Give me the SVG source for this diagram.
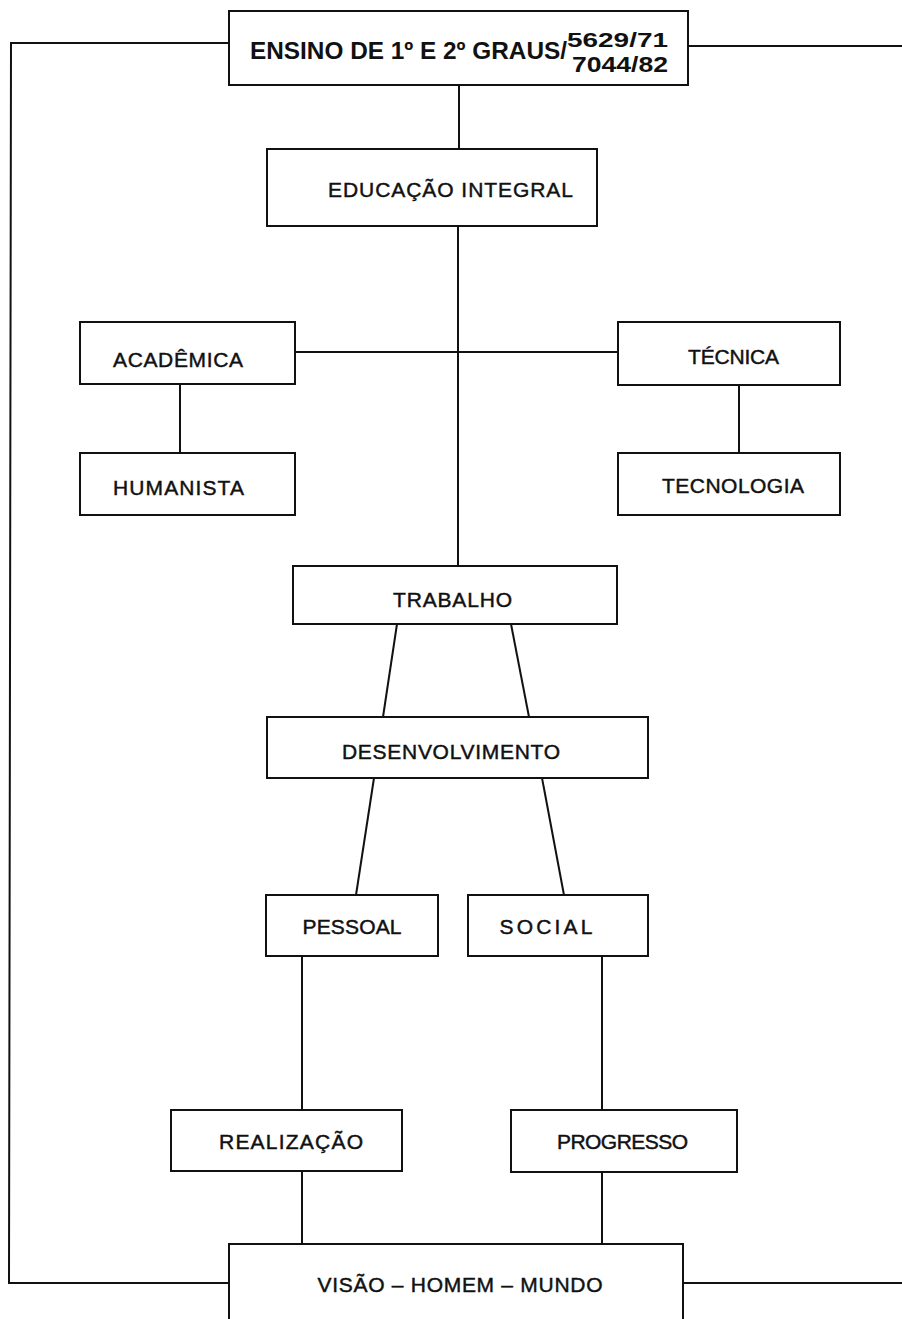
<svg xmlns="http://www.w3.org/2000/svg" width="902" height="1319" viewBox="0 0 902 1319">
<style>
.box{fill:#fff;stroke:#111;stroke-width:2}
.ln{fill:none;stroke:#111;stroke-width:2}
.t{font-family:"Liberation Sans",Arial,sans-serif;font-size:21px;fill:#111;stroke:#111;stroke-width:0.45;text-anchor:middle}
.tb{font-family:"Liberation Sans",Arial,sans-serif;font-weight:bold;fill:#111}
</style>
<rect width="902" height="1319" fill="#fff"/>
<g id="connectors">
<polyline class="ln" points="229,43 11,43 9,1283 229,1283"/>
<line class="ln" x1="688" y1="46" x2="902" y2="46"/>
<line class="ln" x1="683" y1="1283" x2="902" y2="1283"/>
<line class="ln" x1="459" y1="85" x2="459" y2="149"/>
<line class="ln" x1="458" y1="226" x2="458" y2="566"/>
<line class="ln" x1="295" y1="352" x2="618" y2="352"/>
<line class="ln" x1="180" y1="384" x2="180" y2="453"/>
<line class="ln" x1="739" y1="385" x2="739" y2="453"/>
<line class="ln" x1="397" y1="624" x2="383" y2="717"/>
<line class="ln" x1="511" y1="624" x2="529" y2="717"/>
<line class="ln" x1="374" y1="778" x2="356" y2="895"/>
<line class="ln" x1="542" y1="778" x2="564" y2="895"/>
<line class="ln" x1="302" y1="956" x2="302" y2="1110"/>
<line class="ln" x1="602" y1="956" x2="602" y2="1110"/>
<line class="ln" x1="302" y1="1171" x2="302" y2="1244"/>
<line class="ln" x1="602" y1="1172" x2="602" y2="1244"/>
</g>
<g id="ensino">
<rect class="box" x="229" y="11" width="459" height="74"/>
<text class="tb" x="250" y="59" font-size="24" textLength="317" lengthAdjust="spacingAndGlyphs">ENSINO DE 1º E 2º GRAUS/</text>
<text class="tb" x="567" y="47" font-size="21" textLength="101" lengthAdjust="spacingAndGlyphs">5629/71</text>
<text class="tb" x="572" y="72" font-size="22" textLength="96" lengthAdjust="spacingAndGlyphs">7044/82</text>
</g>
<g id="educacao">
<rect class="box" x="267" y="149" width="330" height="77"/>
<text class="t" x="450.5" y="197" textLength="245">EDUCAÇÃO INTEGRAL</text>
</g>
<g id="academica">
<rect class="box" x="80" y="322" width="215" height="62"/>
<text class="t" x="178" y="367" textLength="130">ACADÊMICA</text>
</g>
<g id="humanista">
<rect class="box" x="80" y="453" width="215" height="62"/>
<text class="t" x="178.5" y="495" textLength="131">HUMANISTA</text>
</g>
<g id="tecnica">
<rect class="box" x="618" y="322" width="222" height="63"/>
<text class="t" x="733.5" y="364" textLength="91">TÉCNICA</text>
</g>
<g id="tecnologia">
<rect class="box" x="618" y="453" width="222" height="62"/>
<text class="t" x="733" y="493" textLength="142">TECNOLOGIA</text>
</g>
<g id="trabalho">
<rect class="box" x="293" y="566" width="324" height="58"/>
<text class="t" x="452.5" y="607" textLength="119">TRABALHO</text>
</g>
<g id="desenvolvimento">
<rect class="box" x="267" y="717" width="381" height="61"/>
<text class="t" x="451" y="759" textLength="218">DESENVOLVIMENTO</text>
</g>
<g id="pessoal">
<rect class="box" x="266" y="895" width="172" height="61"/>
<text class="t" x="352" y="934" textLength="99">PESSOAL</text>
</g>
<g id="social">
<rect class="box" x="468" y="895" width="180" height="61"/>
<text class="t" x="546" y="934" textLength="93">SOCIAL</text>
</g>
<g id="realizacao">
<rect class="box" x="171" y="1110" width="231" height="61"/>
<text class="t" x="291" y="1149" textLength="144">REALIZAÇÃO</text>
</g>
<g id="progresso">
<rect class="box" x="511" y="1110" width="226" height="62"/>
<text class="t" x="622.5" y="1149" textLength="131">PROGRESSO</text>
</g>
<g id="visao">
<rect class="box" x="229" y="1244" width="454" height="90"/>
<text class="t" x="460" y="1292" textLength="285">VISÃO – HOMEM – MUNDO</text>
</g>
</svg>
